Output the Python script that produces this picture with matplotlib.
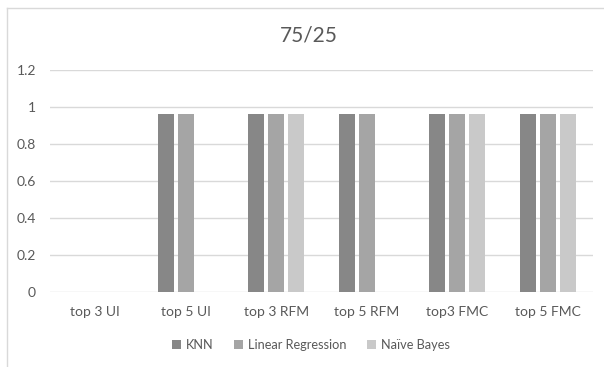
import matplotlib
matplotlib.use("Agg")
import matplotlib.pyplot as plt
import numpy as np
from matplotlib.lines import Line2D
from matplotlib.patches import Patch

categories = ["top 3 UI", "top 5 UI", "top 3 RFM", "top 5 RFM", "top3 FMC", "top 5 FMC"]
series_names = ["KNN", "Linear Regression", "Naïve Bayes"]
knn = [0, 0.96, 0.96, 0.96, 0.96, 0.96]
linear_regression = [0, 0.96, 0.96, 0.96, 0.96, 0.96]
naive_bayes = [0, 0, 0.96, 0, 0.96, 0.96]
yticks = [0, 0.2, 0.4, 0.6, 0.8, 1, 1.2]
ytick_labels = ["0", "0.2", "0.4", "0.6", "0.8", "1", "1.2"]
title = "75/25"

colors = ["#878787", "#a5a5a5", "#c9c9c9"]
text_color = "#595959"
plt.rcParams['font.family'] = ['Lato', 'DejaVu Sans']

W, H = 604, 367
fig = plt.figure(figsize=(W / 100, H / 100), dpi=100)
ax = fig.add_axes([50 / W, 1 - 292 / H, (593 - 50) / W, (292 - 70) / H])

x = np.arange(len(categories))
width = 0.177
step = 0.221
for i, (vals, c) in enumerate(zip([knn, linear_regression, naive_bayes], colors)):
    ax.bar(x + (i - 1) * step, vals, width=width, color=c, linewidth=0, zorder=3)

ax.set_xlim(-0.5, len(categories) - 0.5)
ax.set_ylim(0, 1.2)
ax.set_yticks(yticks)
ax.set_yticklabels(ytick_labels)
ax.set_xticks(x)
ax.set_xticklabels(categories)
ax.tick_params(axis='both', length=0, colors=text_color, labelsize=10)
ax.tick_params(axis='x', pad=10)
ax.tick_params(axis='y', pad=10)
ax.grid(axis='y', color="#d9d9d9", linewidth=1, zorder=0)
for s in ax.spines.values():
    s.set_visible(False)

fig.text(309 / W, 1 - 36 / H, title, ha='center', va='center', fontsize=15, color=text_color)

handles = [Patch(facecolor=c, edgecolor='none') for c in colors]
leg = fig.legend(handles, series_names, loc='center', bbox_to_anchor=(311 / W, 1 - 345 / H),
                 ncol=3, frameon=False, fontsize=9.2, handlelength=0.7, handleheight=0.7,
                 handletextpad=0.4, columnspacing=1.6, labelcolor=text_color)

# chart border (partially cropped)
fig.add_artist(Line2D([7 / W, 1], [1 - 7.5 / H, 1 - 7.5 / H], color="#d9d9d9", linewidth=1))
fig.add_artist(Line2D([6.5 / W, 6.5 / W], [0, 1 - 7.5 / H], color="#d9d9d9", linewidth=1))

fig.savefig("out.png", dpi=100)
